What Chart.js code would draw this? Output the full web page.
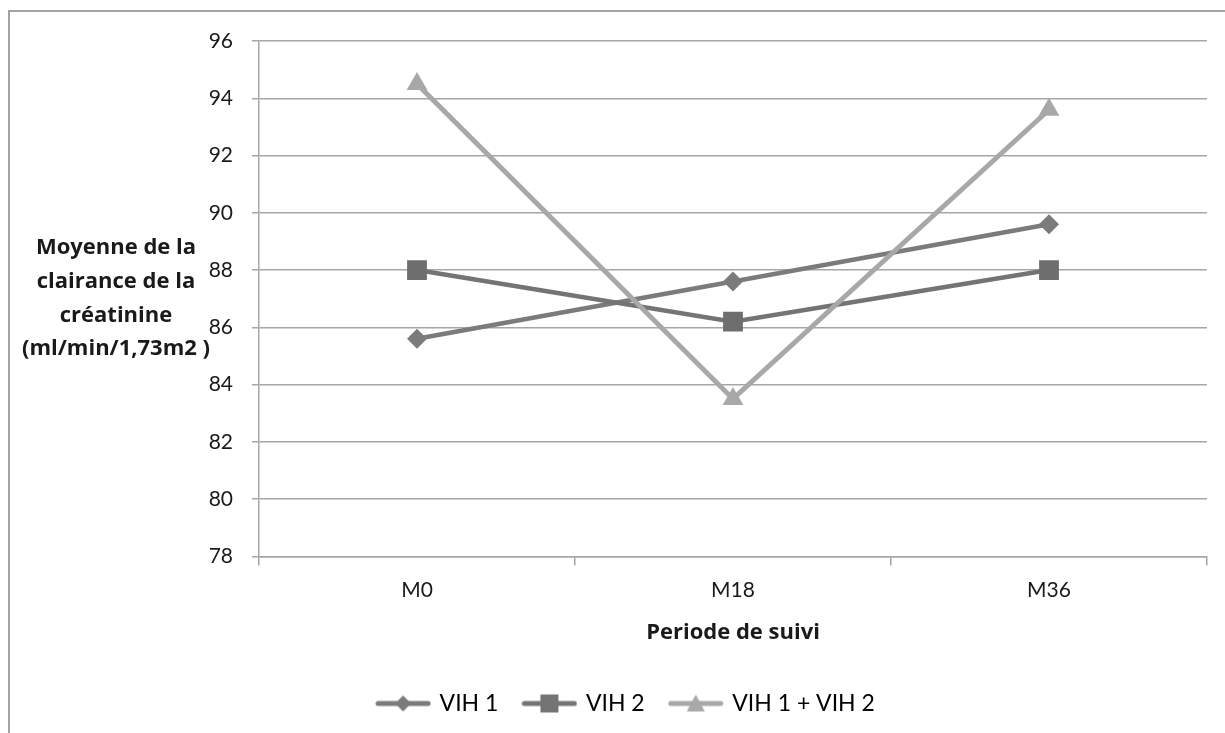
<!DOCTYPE html>
<html>
<head>
<meta charset="utf-8">
<script src="https://cdn.jsdelivr.net/npm/chart.js@4.4.0/dist/chart.umd.min.js"></script>
<style>
  html, body { margin: 0; padding: 0; background: #fff; }
  #wrap { width: 1225px; height: 733px; }
</style>
</head>
<body>
<div id="wrap"><canvas id="clairanceChart"></canvas></div>
<script>
// Moyenne de la clairance de la créatinine par période de suivi
const periods = ['M0', 'M18', 'M36'];
const vih1 = [85.6, 87.6, 89.6];
const vih2 = [88.0, 86.2, 88.0];
const vih12 = [94.5, 83.5, 93.6];
const yTitleLines = ['Moyenne de la', 'clairance de la', 'créatinine', '(ml/min/1,73m2 )'];

const fontFamily = 'Lato, "Open Sans", sans-serif';
const boldFamily = '"Open Sans", Lato, sans-serif';

// small line+marker picture for the legend, Excel style
function legendSymbol(color, shape) {
    const c = document.createElement('canvas');
    c.width = 56;
    c.height = 22;
    const g = c.getContext('2d');
    g.strokeStyle = color;
    g.lineWidth = 5;
    g.lineCap = 'round';
    g.beginPath();
    g.moveTo(3, 11);
    g.lineTo(53, 11);
    g.stroke();
    g.fillStyle = color;
    g.beginPath();
    if (shape === 'diamond') {
        g.moveTo(28, 3); g.lineTo(36, 11); g.lineTo(28, 19); g.lineTo(20, 11);
    } else if (shape === 'square') {
        g.rect(19, 2, 18, 18);
    } else {
        g.moveTo(28, 2); g.lineTo(37, 19); g.lineTo(19, 19);
    }
    g.closePath();
    g.fill();
    return c;
}

const frameAndTitle = {
    id: 'frameAndTitle',
    beforeDraw(chart) {
        const ctx = chart.ctx;
        ctx.save();
        ctx.strokeStyle = '#a3a3a3';
        ctx.lineWidth = 2;
        ctx.beginPath();
        ctx.moveTo(9, 733);
        ctx.lineTo(9, 11);
        ctx.lineTo(1225, 11);
        ctx.stroke();
        ctx.restore();
    },
    afterDraw(chart) {
        const ctx = chart.ctx;
        ctx.save();
        ctx.fillStyle = '#1a1a1a';
        ctx.font = 'bold 22px ' + boldFamily;
        ctx.textAlign = 'center';
        ctx.textBaseline = 'middle';
        yTitleLines.forEach((t, i) => ctx.fillText(t, 116, 248 + i * 33.7));
        ctx.restore();
    }
};

const gridColor = '#a6a6a6';

new Chart(document.getElementById('clairanceChart'), {
    type: 'line',
    data: {
        labels: periods,
        datasets: [
            {
                label: 'VIH 1', data: vih1, order: 2,
                borderColor: '#7b7b7b', backgroundColor: '#7b7b7b', borderWidth: 4.5,
                pointStyle: 'rectRot', pointRadius: 10, pointBorderWidth: 0,
                legendImg: legendSymbol('#7b7b7b', 'diamond')
            },
            {
                label: 'VIH 2', data: vih2, order: 1,
                borderColor: '#747474', backgroundColor: '#6e6e6e', borderWidth: 4.5,
                pointStyle: 'rect', pointRadius: 14, pointBorderWidth: 0,
                legendImg: legendSymbol('#747474', 'square')
            },
            {
                label: 'VIH 1 + VIH 2', data: vih12, order: 0,
                borderColor: '#a8a8a8', backgroundColor: '#a8a8a8', borderWidth: 5,
                pointStyle: 'triangle', pointRadius: 12, pointBorderWidth: 0,
                legendImg: legendSymbol('#a8a8a8', 'triangle')
            }
        ]
    },
    options: {
        responsive: true,
        maintainAspectRatio: false,
        animation: false,
        events: [],
        layout: { padding: { top: 41, right: 18, bottom: 8, left: 46 } },
        scales: {
            x: {
                offset: true,
                grid: { display: true, offset: true, drawOnChartArea: false, tickLength: 9, color: gridColor, lineWidth: 1.5 },
                border: { color: gridColor, width: 1.5 },
                ticks: { padding: 12, color: '#1a1a1a', font: { family: fontFamily, size: 21 } },
                title: {
                    display: true, text: 'Periode de suivi', color: '#1a1a1a',
                    font: { family: boldFamily, size: 22, weight: 'bold' },
                    padding: { top: 5, bottom: 20 }
                }
            },
            y: {
                min: 78, max: 96,
                afterFit(scale) { scale.width = 213; },
                grid: { color: gridColor, lineWidth: 1.5, tickLength: 7 },
                border: { color: gridColor, width: 1.5 },
                ticks: { stepSize: 2, padding: 19, color: '#1a1a1a', font: { family: fontFamily, size: 21 } }
            }
        },
        plugins: {
            tooltip: { enabled: false },
            legend: {
                position: 'bottom',
                labels: {
                    usePointStyle: true,
                    pointStyleWidth: 50,
                    padding: 26,
                    color: '#1a1a1a',
                    font: { family: fontFamily, size: 23 },
                    generateLabels(chart) {
                        return chart.data.datasets.map((ds, i) => ({
                            text: ds.label,
                            pointStyle: ds.legendImg,
                            fillStyle: ds.borderColor,
                            strokeStyle: ds.borderColor,
                            lineWidth: 0,
                            hidden: false,
                            datasetIndex: i
                        }));
                    }
                }
            }
        }
    },
    plugins: [frameAndTitle]
});
</script>
</body>
</html>
